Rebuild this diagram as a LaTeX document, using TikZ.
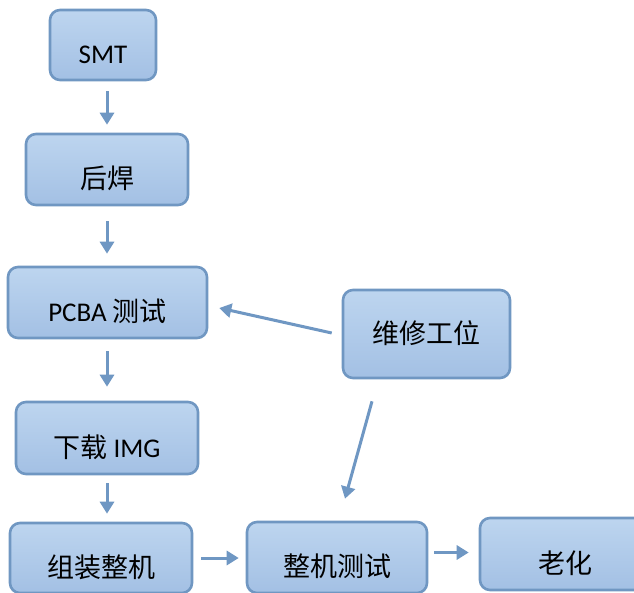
\documentclass[tikz,border=0pt]{standalone}
\usepackage{fontspec}
\setmainfont{Carlito}
\newfontfamily\cjk{Noto Sans CJK SC}
\usetikzlibrary{arrows.meta}
\definecolor{boxtop}{HTML}{BDD5EF}
\definecolor{boxbot}{HTML}{A3C0E4}
\definecolor{boxline}{HTML}{7097C2}
\definecolor{arrcol}{HTML}{6F97C3}
\tikzset{
  box/.style={draw=boxline, line width=2.6pt, rounded corners=10pt,
    top color=boxtop, bottom color=boxbot, inner sep=0pt,
    text height=38pt, text depth=0pt, font=\fontsize{27}{27}\selectfont},
  arr/.style={draw=arrcol, line width=3pt, -{Triangle[length=12pt,width=14pt]}}
}
\begin{document}
\begin{tikzpicture}[x=1pt,y=-1pt]
\clip (0,0) rectangle (634,593);
\useasboundingbox (0,0) rectangle (634,593);
\fill[white] (0,0) rectangle (634,593);
\node[box, minimum width=106pt, minimum height=70pt] (smt) at (103,45) {SMT};
\node[box, minimum width=162pt, minimum height=71pt] (hh) at (107,169.5) {\cjk 后焊};
\node[box, minimum width=199pt, minimum height=71pt] (pcba) at (107.5,302.5) {PCBA {\cjk 测试}};
\node[box, minimum width=167pt, minimum height=88pt, text height=20pt] (wx) at (426.5,334) {\cjk 维修工位};
\node[box, minimum width=182pt, minimum height=72pt] (xz) at (107,438) {{\cjk 下载} IMG};
\node[box, minimum width=182pt, minimum height=70pt] (zz) at (101,558) {\cjk 组装整机};
\node[box, minimum width=180pt, minimum height=71pt] (zjcs) at (337,557.5) {\cjk 整机测试};
\node[box, minimum width=170pt, minimum height=72pt] (lh) at (565,554) {\cjk 老化};
\draw[arr, shorten <=10pt, shorten >=8pt] (smt.south -| hh.north) -- (hh.north);
\draw[arr, shorten <=15pt, shorten >=12pt] (hh.south) -- (hh.south |- pcba.north);
\draw[arr, shorten <=12pt, shorten >=14pt] (pcba.south -| xz.north) -- (xz.north);
\draw[arr, shorten <=8pt, shorten >=8pt] (xz.south) -- (xz.south |- zz.north);
\draw[arr, shorten <=8pt, shorten >=7pt] (zz.east) -- (zz.east -| zjcs.west);
\draw[arr, shorten <=6pt, shorten >=10pt] ([yshift=5pt]zjcs.east) -- ([yshift=5pt]zjcs.east -| lh.west);
\draw[arr] ([xshift=-10pt,yshift=1pt]wx.west) -- ([xshift=11pt,yshift=-5.5pt]pcba.east);
\draw[arr] ([xshift=-54.5pt,yshift=-22pt]wx.south) -- ([xshift=8pt,yshift=22pt]zjcs.north);
\end{tikzpicture}
\end{document}
